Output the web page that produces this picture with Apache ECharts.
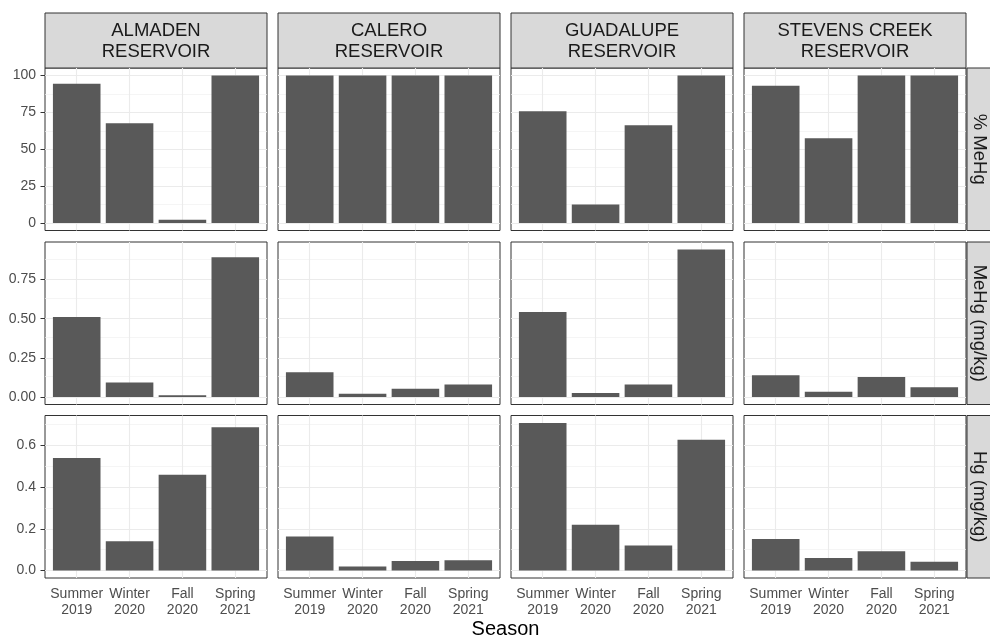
<!DOCTYPE html>
<html>
<head>
<meta charset="utf-8">
<script src="https://cdn.jsdelivr.net/npm/echarts@6/dist/echarts.min.js"></script>
<style>
  html, body { margin: 0; padding: 0; background: #ffffff; }
  #chart { width: 990px; height: 640px; }
</style>
</head>
<body>
<div id="chart"></div>
<script>
// ---------- DATA ----------
const seasons = ['Summer\n2019', 'Winter\n2020', 'Fall\n2020', 'Spring\n2021'];
const reservoirs = ['ALMADEN\nRESERVOIR', 'CALERO\nRESERVOIR', 'GUADALUPE\nRESERVOIR', 'STEVENS CREEK\nRESERVOIR'];
const measures = ['% MeHg', 'MeHg (mg/kg)', 'Hg (mg/kg)'];

// % MeHg
const almadenPctMeHg   = [94.4, 67.6, 2.3, 100];
const caleroPctMeHg    = [100, 100, 100, 100];
const guadalupePctMeHg = [75.7, 12.6, 66.2, 100];
const stevensPctMeHg   = [93.0, 57.4, 100, 100];

// MeHg (mg/kg)
const almadenMeHg   = [0.511, 0.093, 0.012, 0.892];
const caleroMeHg    = [0.159, 0.021, 0.053, 0.080];
const guadalupeMeHg = [0.543, 0.027, 0.080, 0.942];
const stevensMeHg   = [0.139, 0.034, 0.129, 0.063];

// Hg (mg/kg)
const almadenHg   = [0.540, 0.141, 0.459, 0.687];
const caleroHg    = [0.163, 0.020, 0.046, 0.050];
const guadalupeHg = [0.708, 0.220, 0.120, 0.627];
const stevensHg   = [0.152, 0.060, 0.093, 0.043];

// tick labels
const pctTicks  = [0, 25, 50, 75, 100];
const meHgTicks = [0, 0.25, 0.5, 0.75];
const hgTicks   = [0, 0.2, 0.4, 0.6];
const pctMinor  = [12.5, 37.5, 62.5, 87.5];
const meHgMinor = [0.125, 0.375, 0.625, 0.875];
const hgMinor   = [0.1, 0.3, 0.5, 0.7];
const tickDecimals = [0, 2, 1];

// ---------- LAYOUT ----------
const FONT = '"Liberation Sans", Arial, sans-serif';
const colLeft = [45, 278, 511, 744];
const colW = 222;
const rowTop = [68, 242, 415.5];
const rowH = 162.5;
const stripTop = 13, stripH = 55;
const rStripX = 967, rStripW = 24;

const rows = [
  [almadenPctMeHg, caleroPctMeHg, guadalupePctMeHg, stevensPctMeHg],
  [almadenMeHg, caleroMeHg, guadalupeMeHg, stevensMeHg],
  [almadenHg, caleroHg, guadalupeHg, stevensHg]
];
const rowTicks = [pctTicks, meHgTicks, hgTicks];
const rowMinor = [pctMinor, meHgMinor, hgMinor];

const grids = [], xAxes = [], yAxes = [], series = [], graphics = [];
const xPos = [1, 2, 3, 4];

const majorLine = { color: '#EBEBEB', width: 1.1, type: 'solid' };
const minorLine = { color: '#F0F0F0', width: 0.7, type: 'solid' };

for (let r = 0; r < 3; r++) {
  const rowMax = Math.max(...rows[r].flat());
  const yMin = -0.05 * rowMax, yMax = 1.05 * rowMax;
  for (let c = 0; c < 4; c++) {
    const gi = r * 4 + c;
    grids.push({
      left: colLeft[c], top: rowTop[r], width: colW, height: rowH,
      show: true, borderColor: '#333333', borderWidth: 1, backgroundColor: '#ffffff'
    });
    xAxes.push({
      gridIndex: gi, type: 'value', min: 0.4, max: 4.6,
      axisLine: { show: false }, splitLine: { show: false },
      axisTick: { show: r === 2, customValues: xPos, length: 4.5, lineStyle: { color: '#333333', width: 1 } },
      axisLabel: {
        show: r === 2, customValues: xPos, margin: 8,
        formatter: v => seasons[Math.round(v) - 1],
        color: '#4D4D4D', fontSize: 14, lineHeight: 16, fontFamily: FONT
      }
    });
    yAxes.push({
      gridIndex: gi, type: 'value', min: yMin, max: yMax,
      axisLine: { show: false }, splitLine: { show: false },
      axisTick: { show: c === 0, customValues: rowTicks[r], length: 4.5, lineStyle: { color: '#333333', width: 1 } },
      axisLabel: {
        show: c === 0, customValues: rowTicks[r], margin: 9,
        formatter: v => v.toFixed(tickDecimals[r]),
        color: '#4D4D4D', fontSize: 14, fontFamily: FONT
      }
    });
    const lines = [];
    rowMinor[r].forEach(v => lines.push({ yAxis: v, lineStyle: minorLine }));
    rowTicks[r].forEach(v => lines.push({ yAxis: v, lineStyle: majorLine }));
    xPos.forEach(v => lines.push({ xAxis: v, lineStyle: majorLine }));
    series.push({
      type: 'bar', xAxisIndex: gi, yAxisIndex: gi, z: 10,
      data: rows[r][c].map((v, i) => [xPos[i], v]),
      barWidth: '90%',
      itemStyle: { color: '#595959' },
      emphasis: { disabled: true },
      markLine: {
        silent: true, z: 1, symbol: ['none', 'none'], label: { show: false },
        emphasis: { disabled: true }, animation: false, data: lines
      }
    });
  }
}

// facet strips (top)
for (let c = 0; c < 4; c++) {
  graphics.push({
    type: 'rect', shape: { x: colLeft[c], y: stripTop, width: colW, height: stripH },
    style: { fill: '#D9D9D9', stroke: '#333333', lineWidth: 1 }, silent: true
  });
  graphics.push({
    type: 'text', x: colLeft[c] + colW / 2, y: stripTop + stripH / 2 + 1,
    style: { text: reservoirs[c], fill: '#1A1A1A', font: '18.5px ' + FONT, align: 'center', verticalAlign: 'middle', lineHeight: 21 },
    silent: true
  });
}
// facet strips (right)
for (let r = 0; r < 3; r++) {
  graphics.push({
    type: 'rect', shape: { x: rStripX, y: rowTop[r], width: rStripW, height: rowH },
    style: { fill: '#D9D9D9', stroke: '#333333', lineWidth: 1 }, silent: true
  });
  graphics.push({
    type: 'text', x: rStripX + 12.5, y: rowTop[r] + rowH / 2, rotation: -Math.PI / 2,
    style: { text: measures[r], fill: '#1A1A1A', font: '18.5px ' + FONT, align: 'center', verticalAlign: 'middle' },
    silent: true
  });
}
// x-axis title
graphics.push({
  type: 'text', x: (colLeft[0] + colLeft[3] + colW) / 2, y: 629,
  style: { text: 'Season', fill: '#000000', font: '20px ' + FONT, align: 'center', verticalAlign: 'middle' },
  silent: true
});

const chart = echarts.init(document.getElementById('chart'), null, { renderer: 'canvas' });
chart.setOption({
  animation: false,
  backgroundColor: '#ffffff',
  grid: grids, xAxis: xAxes, yAxis: yAxes, series: series,
  graphic: { elements: graphics }
});
</script>
</body>
</html>
